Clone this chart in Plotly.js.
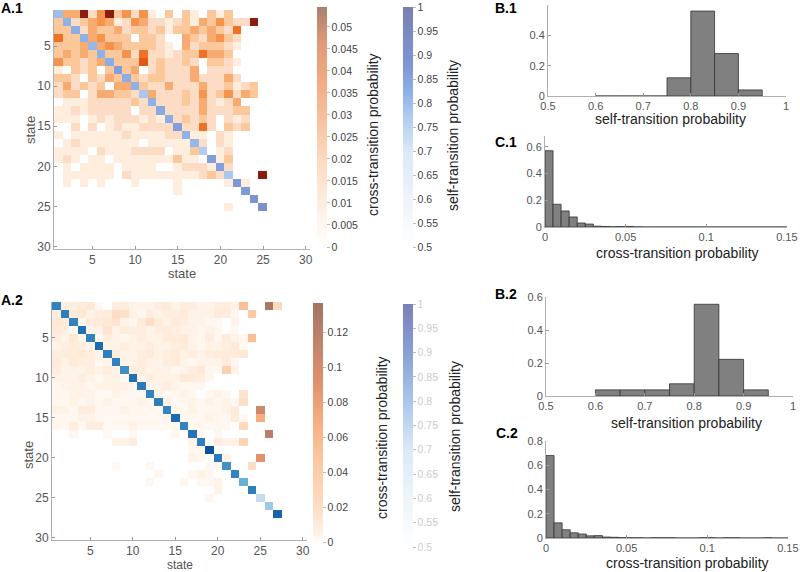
<!DOCTYPE html>
<html>
<head>
<meta charset="utf-8">
<script src="https://cdn.plot.ly/plotly-3.0.1.min.js"></script>
<style>
  html, body { margin: 0; padding: 0; background: #fff; }
  #plot { width: 800px; height: 572px; }
</style>
</head>
<body>
<div id="plot"></div>
<script>
// cross-transition probabilities, model 1 (per mille, diagonal left 0)
var cross1 = [
  [0,19,19,54,7,26,54,12,26,7,26,3,0,12,0,12,3,0,12,3,12,0,0,0,0],
  [12,0,7,12,19,26,19,3,7,26,19,7,7,3,7,12,3,19,12,26,12,7,7,54,0],
  [12,12,0,7,19,12,12,19,7,12,12,7,12,3,12,12,19,12,19,12,7,33,0,0,0],
  [33,12,12,0,19,26,12,12,12,0,12,12,7,0,0,19,12,7,19,26,12,7,0,0,0],
  [12,12,12,19,0,19,26,19,12,12,12,12,7,3,0,19,7,12,12,12,7,3,0,0,0],
  [12,19,12,19,12,0,12,12,26,7,33,7,7,3,7,12,12,33,19,19,12,0,0,0,0],
  [26,12,12,7,12,19,0,12,12,12,38,7,12,7,7,12,7,0,12,12,7,3,0,0,0],
  [3,0,12,7,12,0,12,0,12,19,0,7,12,7,7,7,19,0,7,7,7,0,0,0,0],
  [12,12,7,0,12,7,19,12,0,12,7,12,12,7,7,7,19,7,7,7,19,7,0,0,0],
  [7,19,7,12,7,12,0,19,19,0,12,7,7,19,7,7,7,19,7,7,12,3,7,12,0],
  [7,12,12,0,7,19,19,12,12,7,0,19,7,7,7,12,7,26,7,12,26,7,19,12,0],
  [0,3,3,3,7,7,7,7,7,12,7,0,7,7,7,12,7,19,7,3,7,19,0,0,0],
  [3,3,7,3,7,7,7,7,7,0,7,7,0,7,7,7,7,19,7,7,7,12,12,0,0],
  [3,3,3,0,3,7,3,7,7,7,3,7,3,0,7,12,7,12,7,0,7,3,7,0,0],
  [0,0,7,0,7,0,3,7,3,3,7,7,7,7,0,7,7,33,7,0,12,7,12,0,0],
  [3,0,3,3,3,3,3,3,7,3,3,3,3,7,7,0,3,3,0,7,3,0,0,0,0],
  [0,3,7,3,3,3,3,3,3,3,0,3,3,3,3,3,0,7,0,7,3,0,0,0,0],
  [3,3,3,3,0,7,3,3,3,7,7,7,7,0,3,3,12,0,0,3,7,0,0,0,0],
  [3,7,3,0,3,3,0,3,3,3,3,3,3,3,12,3,3,0,0,3,12,0,0,0,0],
  [0,3,0,3,3,3,3,0,3,3,3,3,0,0,3,7,7,7,3,0,7,0,0,0,0],
  [0,3,3,3,3,3,3,0,7,3,3,3,3,3,3,3,3,7,12,7,0,0,0,0,54],
  [0,3,0,3,0,3,0,0,0,3,0,0,0,0,3,0,0,0,0,0,3,0,3,0,0],
  [0,0,0,0,0,0,0,0,0,0,0,0,0,0,3,0,0,0,0,0,0,0,0,0,0],
  [0,0,0,0,0,0,0,0,0,0,0,0,0,0,0,0,0,0,0,0,0,0,0,0,0],
  [0,0,0,0,0,0,0,0,0,0,0,0,0,0,0,0,0,0,0,0,3,0,0,0,0]
];
var self1 = [0.80,0.82,0.83,0.82,0.81,0.82,0.83,0.86,0.83,0.82,0.78,0.82,0.84,
             0.83,0.86,0.82,0.81,0.77,0.86,0.86,0.78,0.88,0.87,0.89,0.91];

// model 2
var cross2 = [
  [0,8,8,10,12,3,0,8,10,5,5,5,8,10,5,8,8,5,5,8,8,5,55,0,0,130,25],
  [8,0,10,12,5,8,10,20,18,5,3,8,5,8,8,10,5,5,5,10,8,3,0,45,0,0,0],
  [12,10,0,3,10,10,12,15,5,3,10,20,10,5,10,8,5,5,3,3,0,5,0,0,0,0,0],
  [10,8,3,0,5,5,15,5,10,8,8,5,8,10,8,5,5,3,5,3,0,3,0,0,0,0,0],
  [8,5,12,5,0,3,8,5,3,5,8,5,5,10,10,12,5,3,8,3,10,5,3,55,0,0,0],
  [5,8,10,8,5,0,5,5,8,5,5,8,5,5,8,10,5,3,5,5,8,12,3,0,0,0,0],
  [8,10,10,12,8,5,0,8,5,5,8,10,5,8,10,5,8,5,8,10,10,10,12,0,0,0,0],
  [10,5,10,8,8,3,5,0,5,5,8,5,5,8,10,5,3,5,5,5,10,3,0,0,0,0,0],
  [8,5,5,5,8,5,8,5,0,8,8,5,5,5,3,5,8,12,3,3,35,5,0,0,0,0,0],
  [5,5,5,8,5,3,5,5,3,0,5,8,5,5,5,12,10,8,3,0,0,0,0,0,0,0,0],
  [3,5,5,5,3,5,5,5,5,3,0,5,5,8,5,3,3,3,0,0,0,0,0,0,0,0,0],
  [3,3,5,5,5,3,3,5,3,3,3,0,5,3,3,5,3,0,3,5,3,0,15,0,0,0,0],
  [3,3,5,3,5,3,5,3,3,3,5,3,0,5,3,3,5,3,5,3,5,3,20,0,0,0,0],
  [5,5,3,8,8,3,3,3,5,3,3,3,3,0,3,3,5,3,3,3,5,10,0,0,105,0,0],
  [3,3,3,5,5,3,3,3,3,3,3,3,3,3,0,3,3,3,5,3,3,10,3,0,70,0,0],
  [3,3,8,3,8,8,3,3,3,5,3,3,3,3,3,0,3,3,3,3,3,0,25,0,0,0,0],
  [0,0,3,0,0,0,3,0,0,3,0,0,0,0,3,0,0,3,0,3,0,0,0,0,0,120,0],
  [0,0,0,0,0,0,0,5,5,8,0,0,0,0,0,0,5,0,0,8,5,5,30,0,0,0,0],
  [0,0,0,0,0,0,0,0,0,0,0,0,0,0,0,0,3,3,0,0,0,0,0,0,0,0,0],
  [0,0,0,0,0,0,0,0,0,0,0,0,0,0,0,0,5,3,0,0,5,0,0,0,90,0,0],
  [0,0,0,0,0,0,0,3,0,0,0,3,0,0,0,0,0,0,3,3,0,0,0,20,0,0,0],
  [0,0,0,0,0,0,0,0,0,0,0,0,3,0,0,0,3,5,3,0,0,0,0,0,0,0,0],
  [0,0,0,0,0,0,0,0,0,0,0,3,0,0,0,3,0,3,3,5,0,0,0,0,0,0,0],
  [0,0,0,0,0,0,0,0,0,0,0,0,0,0,0,0,0,0,0,5,0,0,0,0,0,0,0],
  [0,0,0,0,0,0,0,0,0,0,0,0,0,0,0,0,0,0,3,0,0,0,0,0,0,0,0],
  [0,0,0,0,0,0,0,0,0,0,0,0,0,0,0,0,0,0,0,0,0,0,0,0,0,0,0],
  [0,0,0,0,0,0,0,0,0,0,0,0,0,0,0,0,0,0,0,0,0,0,0,0,0,0,0]
];
var self2 = [0.82,0.83,0.81,0.87,0.82,0.88,0.83,0.82,0.78,0.87,0.84,0.82,0.83,0.81,
             0.88,0.82,0.86,0.83,0.92,0.84,0.77,0.82,0.72,0.83,0.62,0.67,0.89];

// histograms (fraction per bin)
var selfBinCenters = [0.625,0.675,0.725,0.775,0.825,0.875,0.925];
var selfHist1 = [0,0,0,0.12,0.56,0.28,0.04];
var selfHist2 = [0.037,0.037,0.037,0.074,0.556,0.222,0.037];

var crossBinCenters = [0.0025,0.0075,0.0125,0.0175,0.0225,0.0275,0.0325,0.0375,0.0425,0.0475,
                       0.0525,0.0575,0.0625,0.0675,0.0725,0.0775,0.0825,0.0875,0.0925,0.0975,
                       0.1025,0.1075,0.1125,0.1175,0.1225,0.1275,0.1325,0.1375,0.1425,0.1475];
var crossHist1 = [0.57,0.17,0.12,0.075,0.03,0.022,0.006,0.004,0.002,0.003,
                  0.004,0.001,0,0,0,0,0,0,0,0,0,0,0,0,0,0,0,0,0,0];
var crossHist2 = [0.68,0.125,0.068,0.043,0.033,0.018,0.02,0.008,0.006,0.003,
                  0.002,0.002,0,0.002,0.002,0.002,0,0,0,0.002,0.002,0,0.002,0.002,0,0,0,0.002,0,0];

var FONT = "Liberation Sans, Arial, sans-serif";
var W = 800, H = 572;
function px(x) { return x / W; }
function py(y) { return 1 - y / H; }

function states(n) { var a = []; for (var i = 1; i <= n; i++) a.push(i); return a; }
function offDiag(m) {
  return m.map(function (row, i) {
    return row.map(function (v, j) { return i === j ? null : v / 1000; });
  });
}
function diagOnly(d) {
  return d.map(function (v, i) {
    return d.map(function (_, j) { return i === j ? v : null; });
  });
}

var crossScale1 = [[0,'#ffffff'],[0.05,'#ffeee0'],[0.13,'#fddcc4'],[0.22,'#fbc89c'],
  [0.35,'#f8ab70'],[0.48,'#f5914a'],[0.6,'#f07224'],[0.7,'#e25a16'],[1,'#8a1a10']];
var crossBar1 = [[0,'#ffffff'],[0.35,'#fcdcc4'],[0.65,'#f4b088'],[0.85,'#e09a78'],[1,'#a88070']];
var selfScale1 = [[0,'#ffffff'],[0.4,'#dbe8f6'],[0.56,'#aac8ef'],[0.64,'#8fb2e6'],
  [0.76,'#7d96d6'],[1,'#7a7fb2']];
var crossScale2 = [[0,'#ffffff'],[0.04,'#fff1e4'],[0.15,'#fdddc4'],[0.37,'#fbc49c'],
  [0.51,'#f6ad80'],[0.66,'#e2926e'],[0.8,'#c8866c'],[1,'#a27462']];
var selfScale2 = [[0,'#f7fbff'],[0.24,'#c6dbef'],[0.34,'#9ecae1'],[0.44,'#6baed6'],
  [0.54,'#4292c6'],[0.64,'#3182bd'],[0.74,'#2171b5'],[0.84,'#08519c'],[1,'#08306b']];
var selfBar2 = [[0,'#ffffff'],[0.4,'#dce9f7'],[0.6,'#a9c6ea'],[0.8,'#8aa0d6'],[1,'#7b7fb8']];

var s1 = states(25), s2 = states(27);
var X1MAX = 0.0545, X2MAX = 0.1366;

function cbar(xl, ytop, ybot, cmin, cmax, scale, dt, tickColor, xa, ya) {
  return {
    type: 'scatter', mode: 'markers', x: [null], y: [null], xaxis: xa, yaxis: ya,
    hoverinfo: 'skip', showlegend: false,
    marker: {
      color: [cmin], cmin: cmin, cmax: cmax, colorscale: scale, showscale: true,
      colorbar: {
        x: px(xl), xanchor: 'left', xpad: 0, ypad: 0,
        y: py((ytop + ybot) / 2), yanchor: 'middle', len: (ybot - ytop) / H,
        thickness: 10, outlinewidth: 0, ticks: 'outside', ticklen: 3,
        tickcolor: '#bbbbbb', tick0: cmin, dtick: dt,
        tickfont: {family: FONT, size: 10.5, color: tickColor}
      }
    }
  };
}

var histStyle = {color: '#808080', line: {color: '#333333', width: 0.8}};

var data = [
  {type: 'heatmap', x: s1, y: s1, z: offDiag(cross1), zmin: 0, zmax: X1MAX,
   colorscale: crossScale1, showscale: false, xaxis: 'x', yaxis: 'y'},
  {type: 'heatmap', x: s1, y: s1, z: diagOnly(self1), zmin: 0.5, zmax: 1,
   colorscale: selfScale1, showscale: false, xaxis: 'x', yaxis: 'y'},
  {type: 'heatmap', x: s2, y: s2, z: offDiag(cross2), zmin: 0, zmax: X2MAX,
   colorscale: crossScale2, showscale: false, xaxis: 'x2', yaxis: 'y2'},
  {type: 'heatmap', x: s2, y: s2, z: diagOnly(self2), zmin: 0.5, zmax: 1,
   colorscale: selfScale2, showscale: false, xaxis: 'x2', yaxis: 'y2'},
  cbar(317, 7, 247, 0, X1MAX, crossBar1, 0.005, '#444444', 'x', 'y'),
  cbar(403, 7, 247, 0.5, 1, selfScale1, 0.05, '#444444', 'x', 'y'),
  cbar(313, 303, 542, 0, X2MAX, crossScale2, 0.02, '#444444', 'x2', 'y2'),
  cbar(403, 304, 547, 0.5, 1, selfBar2, 0.05, '#cccccc', 'x2', 'y2'),
  {type: 'bar', x: selfBinCenters, y: selfHist1, width: 0.05, marker: histStyle,
   xaxis: 'x3', yaxis: 'y3', showlegend: false},
  {type: 'bar', x: crossBinCenters, y: crossHist1, width: 0.005, marker: histStyle,
   xaxis: 'x4', yaxis: 'y4', showlegend: false},
  {type: 'bar', x: selfBinCenters, y: selfHist2, width: 0.05, marker: histStyle,
   xaxis: 'x5', yaxis: 'y5', showlegend: false},
  {type: 'bar', x: crossBinCenters, y: crossHist2, width: 0.005, marker: histStyle,
   xaxis: 'x6', yaxis: 'y6', showlegend: false}
];

function ax(extra) {
  var base = {
    showline: true, linecolor: '#b0b0b0', linewidth: 1, mirror: false,
    showgrid: false, zeroline: false, ticks: 'inside', ticklen: 3,
    tickcolor: '#999999', tickfont: {family: FONT, size: 11, color: '#555555'},
    fixedrange: true
  };
  for (var k in extra) base[k] = extra[k];
  return base;
}

var hmTicks = [5, 10, 15, 20, 25, 30];
var hmFont = {family: FONT, size: 12, color: '#555555'};
var layout = {
  width: W, height: H, margin: {l: 0, r: 0, t: 0, b: 0},
  paper_bgcolor: '#ffffff', plot_bgcolor: '#ffffff', bargap: 0,
  font: {family: FONT},
  xaxis: ax({domain: [px(54), px(310)], range: [0.5, 30.5], tickvals: hmTicks, anchor: 'y',
             tickfont: hmFont}),
  yaxis: ax({domain: [py(249), py(10)], range: [30.3, 0.5], tickvals: hmTicks, anchor: 'x',
             tickfont: hmFont}),
  xaxis2: ax({domain: [px(52), px(307)], range: [0.5, 30.5], tickvals: hmTicks, anchor: 'y2',
              tickfont: hmFont}),
  yaxis2: ax({domain: [py(540), py(302)], range: [30.3, 0.5], tickvals: hmTicks, anchor: 'x2',
              tickfont: hmFont}),
  xaxis3: ax({domain: [px(548), px(786)], range: [0.5, 1], tickvals: [0.5,0.6,0.7,0.8,0.9,1],
              ticktext: ['0.5','0.6','0.7','0.8','0.9','1'], anchor: 'y3'}),
  yaxis3: ax({domain: [py(96), py(5)], range: [0, 0.6], tickvals: [0,0.2,0.4,0.6],
              ticktext: ['0','0.2','0.4','0.6'], anchor: 'x3'}),
  xaxis4: ax({domain: [px(545), px(787)], range: [0, 0.1501], tickvals: [0,0.05,0.1,0.15],
              ticktext: ['0','0.05','0.1','0.15'], anchor: 'y4'}),
  yaxis4: ax({domain: [py(227), py(136)], range: [0, 0.68], tickvals: [0,0.2,0.4,0.6],
              ticktext: ['0','0.2','0.4','0.6'], anchor: 'x4'}),
  xaxis5: ax({domain: [px(546), px(793)], range: [0.5, 1], tickvals: [0.5,0.6,0.7,0.8,0.9,1],
              ticktext: ['0.5','0.6','0.7','0.8','0.9','1'], anchor: 'y5'}),
  yaxis5: ax({domain: [py(396), py(297)], range: [0, 0.6], tickvals: [0,0.2,0.4,0.6],
              ticktext: ['0','0.2','0.4','0.6'], anchor: 'x5'}),
  xaxis6: ax({domain: [px(546), px(788)], range: [0, 0.1501], tickvals: [0,0.05,0.1,0.15],
              ticktext: ['0','0.05','0.1','0.15'], anchor: 'y6'}),
  yaxis6: ax({domain: [py(538), py(441)], range: [0, 0.8], tickvals: [0,0.2,0.4,0.6,0.8],
              ticktext: ['0','0.2','0.4','0.6','0.8'], anchor: 'x6'}),
  annotations: []
};

function note(text, x, y, size, color, angle, bold) {
  layout.annotations.push({
    text: bold ? '<b>' + text + '</b>' : text, xref: 'paper', yref: 'paper',
    x: px(x), y: py(y), xanchor: 'center', yanchor: 'middle', showarrow: false,
    textangle: angle || 0, font: {family: FONT, size: size, color: color}
  });
}

// panel labels
note('A.1', 12, 8, 14, '#000000', 0, true);
note('A.2', 12, 300, 14, '#000000', 0, true);
note('B.1', 506, 8, 14, '#000000', 0, true);
note('C.1', 506, 142, 14, '#000000', 0, true);
note('B.2', 506, 294, 14, '#000000', 0, true);
note('C.2', 507, 433, 14, '#000000', 0, true);

// heatmap axis titles
note('state', 182, 274, 13, '#555555');
note('state', 30, 130, 13, '#555555', -90);
note('state', 180, 565, 12, '#555555');
note('state', 28, 455, 13, '#555555', -90);

// colorbar titles
note('cross-transition probability', 373, 135, 14, '#222222', -90);
note('self-transition probability', 453, 136, 14, '#222222', -90);
note('cross-transition probability', 382, 438, 14, '#222222', -90);
note('self-transition probability', 455, 437, 14, '#222222', -90);

// histogram titles
note('self-transition probability', 670, 119, 14, '#222222');
note('cross-transition probability', 677, 253, 14, '#222222');
note('self-transition probability', 686, 423, 14, '#222222');
note('cross-transition probability', 687, 563, 14, '#222222');

Plotly.newPlot('plot', data, layout, {staticPlot: true, displayModeBar: false});
</script>
</body>
</html>
